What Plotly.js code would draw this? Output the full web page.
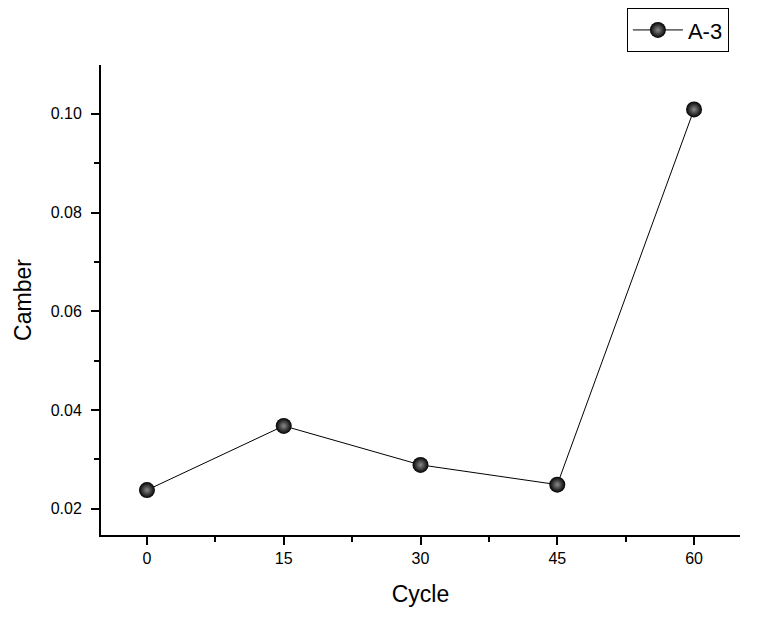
<!DOCTYPE html>
<html>
<head>
<meta charset="utf-8">
<script src="https://cdn.plot.ly/plotly-3.0.1.min.js"></script>
<style>html,body{margin:0;padding:0;background:#fff;}#chart{width:774px;height:619px;}</style>
</head>
<body>
<div id="chart"></div>
<script>
const cycles = [0, 15, 30, 45, 60];
const camber = [0.0238, 0.0368, 0.0289, 0.0249, 0.1009];
const seriesName = 'A-3';
const xTickVals = [0, 15, 30, 45, 60];
const yTickVals = [0.02, 0.04, 0.06, 0.08, 0.10];
const yTickText = ['0.02', '0.04', '0.06', '0.08', '0.10'];

const font = 'Liberation Sans, Arial, sans-serif';
const trace = {
  x: cycles, y: camber, name: seriesName, type: 'scatter', mode: 'lines+markers',
  line: {color: '#000', width: 1},
  marker: {size: 16, color: '#000', gradient: {type: 'radial', color: '#8a8a8a'}, line: {width: 0}},
  showlegend: true
};
const layout = {
  width: 774, height: 619,
  margin: {l: 101, r: 34, t: 65, b: 84, autoexpand: false},
  paper_bgcolor: '#fff', plot_bgcolor: '#fff',
  font: {family: font, color: '#000'},
  xaxis: {
    range: [-5.04, 65.04], tickvals: xTickVals, ticks: 'outside', ticklen: 8, tickwidth: 2,
    tickcolor: '#000', showline: true, linewidth: 2, linecolor: '#000', showgrid: false, zeroline: false,
    tickfont: {size: 16, family: font},
    minor: {tickvals: [7.5, 22.5, 37.5, 52.5], ticks: 'outside', ticklen: 5, tickwidth: 2, tickcolor: '#000', showgrid: false},
    title: {text: 'Cycle', font: {size: 23, family: font}, standoff: 20}
  },
  yaxis: {
    range: [0.0147, 0.1099], tickvals: yTickVals, ticktext: yTickText, ticks: 'outside', ticklen: 8, tickwidth: 2,
    tickcolor: '#000', showline: true, linewidth: 2, linecolor: '#000', showgrid: false, zeroline: false,
    tickfont: {size: 16, family: font}, ticklabelstandoff: 6,
    minor: {tickvals: [0.03, 0.05, 0.07, 0.09], ticks: 'outside', ticklen: 5, tickwidth: 2, tickcolor: '#000', showgrid: false},
    title: {text: 'Camber', font: {size: 23, family: font}, standoff: 13}
  },
  showlegend: true,
  legend: {
    x: 0.823, y: 1.121, xanchor: 'left', yanchor: 'top',
    bordercolor: '#000', borderwidth: 1, bgcolor: '#fff',
    font: {size: 22, family: font}, tracegroupgap: 0, itemwidth: 50
  }
};
Plotly.newPlot('chart', [trace], layout, {displayModeBar: false, staticPlot: true});
</script>
</body>
</html>
